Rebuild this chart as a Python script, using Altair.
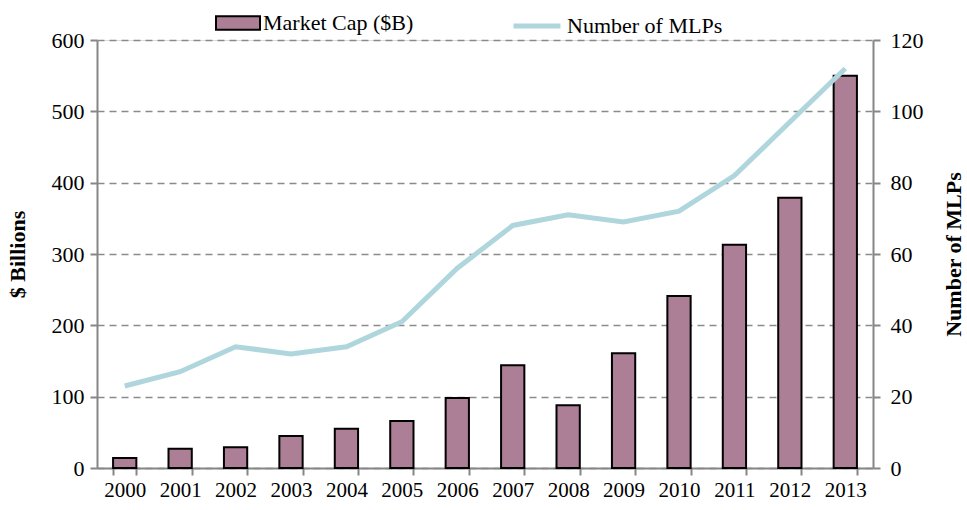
import altair as alt
import pandas as pd

years = ["2000", "2001", "2002", "2003", "2004", "2005", "2006",
         "2007", "2008", "2009", "2010", "2011", "2012", "2013"]
market_cap = [14, 27, 29, 45, 55, 66, 98, 144, 88, 161, 241, 313, 379, 550]
num_mlps = [23, 27, 34, 32, 34, 41, 56, 68, 71, 69, 72, 82, 97, 112]

df = pd.DataFrame({
    "year": years,
    "cap": market_cap,
    "mlps": num_mlps,
    "s1": "Market Cap ($B)",
    "s2": "Number of MLPs",
})

FONT = "Liberation Serif"
AX = "#868686"

x = alt.X("year:O", title=None, scale=alt.Scale(paddingInner=0.58, paddingOuter=0.29),
          axis=alt.Axis(labelAngle=0, labelFont=FONT, labelFontSize=21, labelColor="black",
                        tickBand="extent", tickSize=7, tickColor=AX, tickWidth=2,
                        domainColor=AX, domainWidth=2, labelPadding=4))

bars = alt.Chart(df).mark_bar(stroke="black", strokeWidth=2).encode(
    x=x,
    y=alt.Y("cap:Q", scale=alt.Scale(domain=[0, 600]),
            axis=alt.Axis(title="$ Billions", values=[0, 100, 200, 300, 400, 500, 600],
                          labelFont=FONT, labelFontSize=22, labelColor="black",
                          labelPadding=6,
                          titleFont=FONT, titleFontSize=22, titleFontWeight="bold",
                          titleColor="black", titlePadding=22,
                          tickSize=7, tickColor=AX, tickWidth=2,
                          domainColor=AX, domainWidth=2,
                          grid=True, gridDash=[7, 5], gridColor="#8a8a8a", gridWidth=1.5)),
    fill=alt.Fill("s1:N", scale=alt.Scale(domain=["Market Cap ($B)"], range=["#ad7f96"]),
                  legend=alt.Legend(title=None, orient="none", legendX=118, legendY=-40,
                                    symbolType="M-1,-0.31H1V0.31H-1Z", symbolSize=1936,
                                    symbolStrokeColor="black", symbolStrokeWidth=2,
                                    labelFont=FONT, labelFontSize=22, labelColor="black",
                                    labelLimit=400, labelOffset=2, padding=0)),
)

line = alt.Chart(df).mark_line(strokeWidth=5).encode(
    x=x,
    y=alt.Y("mlps:Q", scale=alt.Scale(domain=[0, 120]),
            axis=alt.Axis(title="Number of MLPs", orient="right", titleAngle=270,
                          values=[0, 20, 40, 60, 80, 100, 120],
                          labelFont=FONT, labelFontSize=22, labelColor="black",
                          labelPadding=10,
                          titleFont=FONT, titleFontSize=22, titleFontWeight="bold",
                          titleColor="black", titlePadding=42,
                          tickSize=7, tickColor=AX, tickWidth=2,
                          domainColor=AX, domainWidth=2, grid=False)),
    stroke=alt.Stroke("s2:N", scale=alt.Scale(domain=["Number of MLPs"], range=["#aed6dc"]),
                      legend=alt.Legend(title=None, orient="none", legendX=414, legendY=-40,
                                        symbolType="stroke", symbolSize=2200,
                                        symbolStrokeWidth=5,
                                        labelFont=FONT, labelFontSize=22, labelColor="black",
                                        labelLimit=400, labelOffset=4, padding=0)),
)

chart = alt.layer(bars, line).resolve_scale(y="independent", fill="independent",
                                            stroke="independent").properties(
    width=776, height=428,
    autosize=alt.AutoSizeParams(type="none"),
    padding={"left": 97, "top": 40, "right": 94, "bottom": 42},
).configure_view(stroke=None).configure(background="white")

chart.save("out.html", embed_options={"renderer": "svg", "actions": False})
